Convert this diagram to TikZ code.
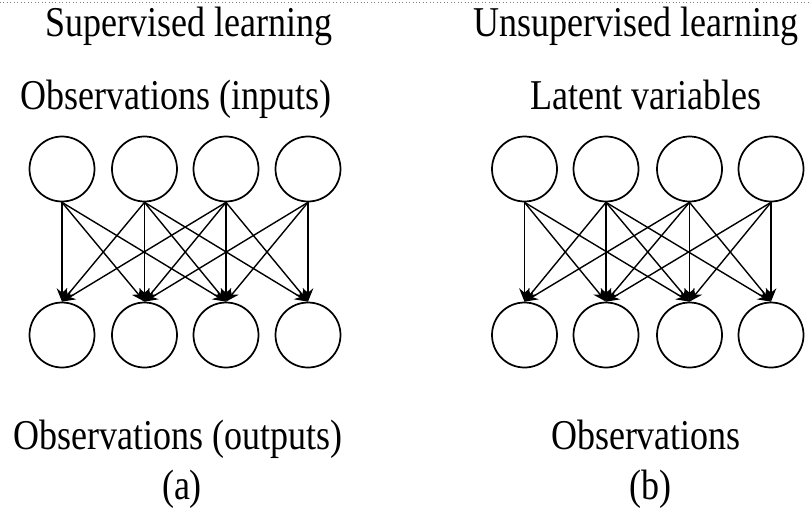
\documentclass[tikz,border=0pt]{standalone}
\usepackage{fontspec}
\usepackage{graphicx}
\setmainfont{Liberation Serif}
\usetikzlibrary{arrows.meta}
\newcommand{\tallt}[1]{\scalebox{1}[1.18]{#1}}
\begin{document}
\begin{tikzpicture}[x=0.75pt,y=-0.75pt,
  unit/.style={circle,draw,line width=1.3pt,minimum size=48.75pt,inner sep=0pt},
  lbl/.style={anchor=base,inner sep=0pt,font=\fontsize{27}{32}\selectfont},
  arr/.style={line width=1.05pt,-{Stealth[length=10pt,width=8pt]}}]
\useasboundingbox (0,0) rectangle (809,507);
\draw[dotted,gray,line width=0.6pt] (0,2.5) -- (809,2.5);
% left panel
\node[lbl] (ta) at (189,36) {\tallt{Supervised learning}};
\node[lbl] (ia) at (176,109) {\tallt{Observations (inputs)}};
\node[lbl] (oa) at (178,449) {\tallt{Observations (outputs)}};
\node[lbl] (ca) at (182,499) {\tallt{(a)}};
\node[unit] (a1) at (62,169) {};
\node[unit] (a2) at (144.5,169) {};
\node[unit] (a3) at (226,169) {};
\node[unit] (a4) at (308,169) {};
\node[unit] (b1) at (62,335) {};
\node[unit] (b2) at (144.5,335) {};
\node[unit] (b3) at (226,335) {};
\node[unit] (b4) at (308,335) {};
% right panel
\node[lbl] (tb) at (636,36) {\tallt{Unsupervised learning}};
\node[lbl] (ib) at (646,109) {\tallt{Latent variables}};
\node[lbl] (ob) at (646,449) {\tallt{Observations}};
\node[lbl] (cb) at (650,499) {\tallt{(b)}};
\node[unit] (c1) at (524.5,169) {};
\node[unit] (c2) at (606,169) {};
\node[unit] (c3) at (689.5,169) {};
\node[unit] (c4) at (771,169) {};
\node[unit] (d1) at (524.5,335) {};
\node[unit] (d2) at (606,335) {};
\node[unit] (d3) at (689.5,335) {};
\node[unit] (d4) at (771,335) {};
\foreach \i/\j in {1/1,1/2,1/3,2/1,2/2,2/3,2/4,3/1,3/2,3/3,3/4,4/2,4/3,4/4}{
  \draw[arr] (a\i.south) -- (b\j.north);
  \draw[arr] (c\i.south) -- (d\j.north);
}
\end{tikzpicture}
\end{document}
